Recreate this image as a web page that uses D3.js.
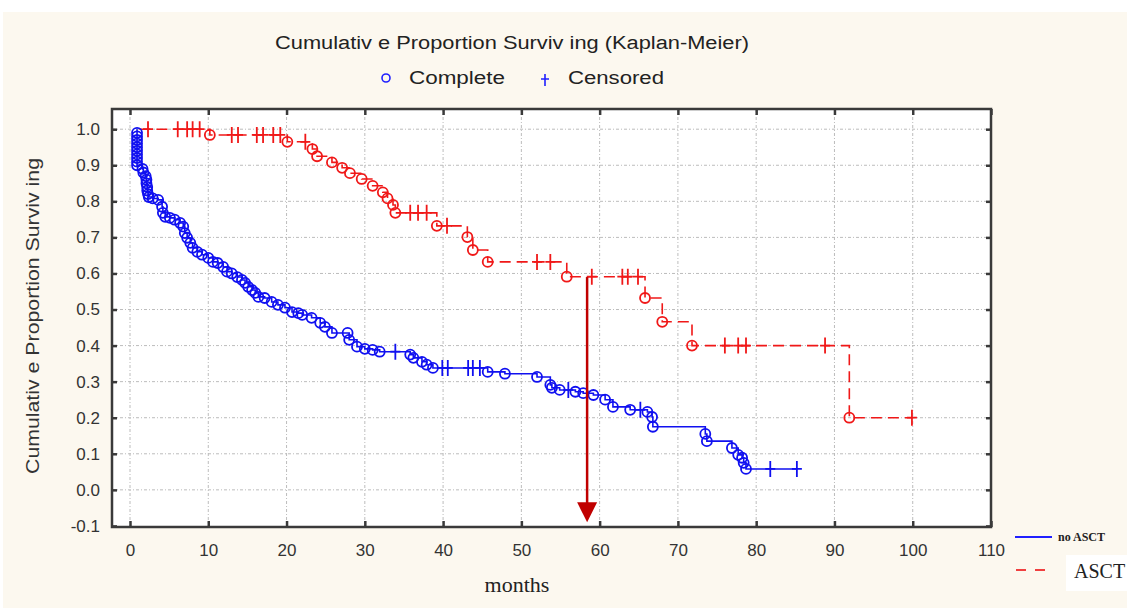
<!DOCTYPE html>
<html>
<head>
<meta charset="utf-8">
<script src="https://cdn.jsdelivr.net/npm/d3@7.9.0/dist/d3.min.js"></script>
<style>
  html, body { margin: 0; padding: 0; background: #fff; }
  svg { display: block; }
</style>
</head>
<body>
<svg id="chart" width="1127" height="608"></svg>
<script>
// --- data (months, proportion surviving) ---
const xTicks = [0, 10, 20, 30, 40, 50, 60, 70, 80, 90, 100, 110];
const yTicks = [-0.1, 0.0, 0.1, 0.2, 0.3, 0.4, 0.5, 0.6, 0.7, 0.8, 0.9, 1.0];

// no ASCT (blue)
const blueStart = 0.9;
const blueEventTimes = [
  0.9, 0.9, 0.9, 0.9, 0.9, 0.9, 0.9, 0.9, 0.9, 0.9,
  1.6, 1.7, 2.0, 2.1, 2.1, 2.2, 2.2, 2.3, 2.4,
  2.9, 3.6, 4.1, 4.2, 4.5, 5.1, 5.7, 6.4, 6.8, 7.0, 7.3,
  7.7, 8.0, 8.6, 9.2, 10.0, 10.6, 11.2, 11.9, 12.4, 13.0,
  13.7, 14.3, 14.7, 15.1, 15.6, 16.0, 16.4, 17.2, 18.1, 18.9,
  19.8, 20.7, 21.5, 22.0, 23.2, 24.3, 24.9, 25.8, 27.8, 28.0,
  29.0, 30.0, 31.0, 31.9, 35.8, 36.2, 37.3, 37.9, 38.7, 45.7,
  47.9, 52.0, 53.7, 53.9, 54.9, 56.9, 57.9, 59.2, 60.7, 61.7,
  63.9, 66.1, 66.7, 66.8, 73.5, 73.7, 76.9, 77.7, 78.2, 78.4, 78.7
];
const blueEventSurv = [
  0.99, 0.98, 0.97, 0.96, 0.95, 0.94, 0.93, 0.92, 0.91, 0.90,
  0.89, 0.88, 0.87, 0.86, 0.85, 0.84, 0.83, 0.82, 0.812,
  0.808, 0.804, 0.785, 0.768, 0.757, 0.754, 0.749, 0.74, 0.73, 0.712, 0.699,
  0.685, 0.671, 0.66, 0.652, 0.643, 0.632, 0.629, 0.618, 0.605, 0.60,
  0.59, 0.582, 0.574, 0.563, 0.554, 0.546, 0.535, 0.532, 0.521, 0.513,
  0.505, 0.493, 0.49, 0.485, 0.477, 0.463, 0.452, 0.435, 0.435, 0.416,
  0.397, 0.391, 0.388, 0.383, 0.375, 0.366, 0.355, 0.347, 0.338, 0.327,
  0.322, 0.313, 0.291, 0.283, 0.277, 0.272, 0.268, 0.263, 0.25, 0.23,
  0.222, 0.216, 0.202, 0.175, 0.155, 0.135, 0.116, 0.097, 0.089, 0.075, 0.058
];
const blueCensorTimes = [33.9, 39.9, 40.6, 43.2, 43.8, 44.7, 56.0, 65.2, 81.8, 85.2];

// ASCT (red)
const redStart = 1.2;
const redEventTimes = [
  10.2, 20.1, 23.3, 23.9, 25.8, 27.1, 28.1, 29.6, 31.0, 32.3,
  32.9, 33.6, 33.9, 39.2, 43.1, 43.8, 45.7, 55.8, 65.8, 68.0,
  71.8, 91.9
];
const redEventSurv = [
  0.984, 0.965, 0.945, 0.925, 0.908, 0.893, 0.878, 0.862, 0.843, 0.825,
  0.808, 0.79, 0.768, 0.732, 0.701, 0.665, 0.632, 0.591, 0.532, 0.466,
  0.40, 0.20
];
const redCensorTimes = [
  2.3, 6.1, 7.3, 8.0, 8.9, 13.0, 13.8, 16.2, 17.0, 18.3, 19.2, 22.4,
  35.8, 36.8, 37.9, 40.5, 52.0, 53.7, 59.0, 62.9, 63.6, 64.9,
  76.0, 77.7, 78.7, 88.8, 99.9
];

const arrowMonth = 58.4;
const arrowTop = 0.59;
const arrowTip = -0.09;

// --- build survival series ---
function buildSeries(start, evT, evS, cenT) {
  const events = evT.map((t, i) => ({ t, s: evS[i], type: 'event' }));
  const level = (t) => {
    let s = 1;
    events.forEach((e) => { if (e.t <= t) s = e.s; });
    return s;
  };
  const censors = cenT.map((t) => ({ t, s: level(t), type: 'censor' }));
  const all = [{ t: start, s: 1, type: 'start' }, ...events, ...censors]
    .sort((a, b) => a.t - b.t || b.s - a.s);
  return { events, censors, all };
}

const blue = buildSeries(blueStart, blueEventTimes, blueEventSurv, blueCensorTimes);
const red = buildSeries(redStart, redEventTimes, redEventSurv, redCensorTimes);

// --- drawing ---
const SANS = "'Liberation Sans', Arial, sans-serif";
const SERIF = "'Liberation Serif', 'Times New Roman', serif";
const svg = d3.select('#chart');
const plot = { left: 112, right: 991, top: 109, bottom: 527 };

svg.append('rect').attr('x', 3).attr('y', 12).attr('width', 1124).attr('height', 596).attr('fill', '#fcf8ef');
svg.append('rect')
  .attr('x', plot.left).attr('y', plot.top)
  .attr('width', plot.right - plot.left).attr('height', plot.bottom - plot.top)
  .attr('fill', '#fff');

const x = d3.scaleLinear().domain([-2.3, 110]).range([plot.left, plot.right]);
const y = d3.scaleLinear().domain([-0.103, 1.056]).range([plot.bottom, plot.top]);

// grid
const grid = svg.append('g').attr('stroke', '#bcbcbc').attr('stroke-width', 1).attr('stroke-dasharray', '3,2,1,2');
grid.selectAll('line.v').data(xTicks.filter((d) => d < 110)).join('line')
  .attr('x1', (d) => x(d)).attr('x2', (d) => x(d))
  .attr('y1', plot.top).attr('y2', plot.bottom);
grid.selectAll('line.h').data(yTicks.filter((d) => d > -0.1)).join('line')
  .attr('x1', plot.left).attr('x2', plot.right)
  .attr('y1', (d) => y(d)).attr('y2', (d) => y(d));

// axes
const fmt = (d) => d3.format('.1f')(d).replace('\u2212', '-');
const axisColor = '#3a3a3a';
function styleAxis(g) {
  g.select('.domain').remove();
  g.selectAll('.tick line').attr('stroke', axisColor).attr('stroke-width', 2.5);
  g.selectAll('.tick text').attr('fill', '#333').attr('font-size', 17)
    .style('font-family', SANS);
}
svg.append('g').attr('transform', `translate(${plot.left},0)`)
  .call(d3.axisLeft(y).tickValues(yTicks).tickFormat(fmt).tickSize(-5).tickPadding(12))
  .call(styleAxis);
svg.append('g').attr('transform', `translate(${plot.right},0)`)
  .call(d3.axisRight(y).tickValues(yTicks).tickFormat('').tickSize(-5))
  .call(styleAxis);
svg.append('g').attr('transform', `translate(0,${plot.bottom})`)
  .call(d3.axisBottom(x).tickValues(xTicks).tickFormat(d3.format('d')).tickSize(-6).tickPadding(17))
  .call(styleAxis);
svg.append('g').attr('transform', `translate(0,${plot.top})`)
  .call(d3.axisTop(x).tickValues(xTicks).tickFormat('').tickSize(-6))
  .call(styleAxis);

svg.append('rect')
  .attr('x', plot.left).attr('y', plot.top)
  .attr('width', plot.right - plot.left).attr('height', plot.bottom - plot.top)
  .attr('fill', 'none').attr('stroke', axisColor).attr('stroke-width', 2.5);

// curves
const line = d3.line().x((d) => x(d.t)).y((d) => y(d.s)).curve(d3.curveStepAfter);

function drawSeries(series, color, dash) {
  const g = svg.append('g');
  g.append('path').datum(series.all)
    .attr('d', line).attr('fill', 'none').attr('stroke', color)
    .attr('stroke-width', 1.6).attr('stroke-dasharray', dash);
  g.selectAll('circle').data(series.events).join('circle')
    .attr('cx', (d) => x(d.t)).attr('cy', (d) => y(d.s)).attr('r', 5)
    .attr('fill', 'none').attr('stroke', color).attr('stroke-width', 1.8);
  g.selectAll('path.cen').data(series.censors).join('path')
    .attr('class', 'cen')
    .attr('d', (d) => `M${x(d.t)},${y(d.s) - 8}V${y(d.s) + 8}M${x(d.t) - 5},${y(d.s)}H${x(d.t) + 5}`)
    .attr('stroke', color).attr('stroke-width', 1.8).attr('fill', 'none');
}
drawSeries(red, '#f01818', '11,6');
drawSeries(blue, '#1010f0', null);

// arrow
const arrowColor = '#c00000';
svg.append('line')
  .attr('x1', x(arrowMonth)).attr('x2', x(arrowMonth))
  .attr('y1', y(arrowTop)).attr('y2', y(arrowTip) - 18)
  .attr('stroke', arrowColor).attr('stroke-width', 2.5);
svg.append('path')
  .attr('d', `M${x(arrowMonth) - 10},${y(arrowTip) - 20}L${x(arrowMonth) + 10},${y(arrowTip) - 20}L${x(arrowMonth)},${y(arrowTip)}Z`)
  .attr('fill', arrowColor);

// titles
svg.append('text').attr('x', 512).attr('y', 49).attr('text-anchor', 'middle')
  .style('font-family', SANS).attr('font-size', 18).attr('fill', '#222')
  .attr('textLength', 474).attr('lengthAdjust', 'spacingAndGlyphs')
  .text('Cumulativ e Proportion Surviv ing (Kaplan-Meier)');

svg.append('circle').attr('cx', 386).attr('cy', 78).attr('r', 4)
  .attr('fill', 'none').attr('stroke', '#2020ff').attr('stroke-width', 1.6);
svg.append('text').attr('x', 409).attr('y', 84).style('font-family', SANS)
  .attr('font-size', 18).attr('fill', '#222')
  .attr('textLength', 96).attr('lengthAdjust', 'spacingAndGlyphs').text('Complete');
svg.append('path').attr('d', 'M545,74V86M541,79H549').attr('stroke', '#2020ff').attr('stroke-width', 1.6);
svg.append('text').attr('x', 568).attr('y', 84).style('font-family', SANS)
  .attr('font-size', 18).attr('fill', '#222')
  .attr('textLength', 96).attr('lengthAdjust', 'spacingAndGlyphs').text('Censored');

svg.append('text')
  .attr('transform', 'translate(39,316) rotate(-90)')
  .attr('text-anchor', 'middle').style('font-family', SANS).attr('font-size', 18).attr('fill', '#333')
  .attr('textLength', 316).attr('lengthAdjust', 'spacingAndGlyphs')
  .text('Cumulativ e Proportion Surviv ing');

svg.append('text').attr('x', 517).attr('y', 592).attr('text-anchor', 'middle')
  .style('font-family', SERIF).attr('font-size', 22).attr('fill', '#222').text('months');

// group legend (bottom right)
svg.append('line').attr('x1', 1015).attr('x2', 1052).attr('y1', 537).attr('y2', 537)
  .attr('stroke', '#2020ff').attr('stroke-width', 2);
svg.append('text').attr('x', 1058).attr('y', 541)
  .style('font-family', SERIF).attr('font-size', 12).attr('font-weight', 'bold')
  .attr('fill', '#222').text('no ASCT');
svg.append('line').attr('x1', 1016).attr('x2', 1046).attr('y1', 570).attr('y2', 570)
  .attr('stroke', '#f04040').attr('stroke-width', 2).attr('stroke-dasharray', '10,9');
svg.append('rect').attr('x', 1066).attr('y', 555).attr('width', 61).attr('height', 36).attr('fill', '#fff');
svg.append('text').attr('x', 1074).attr('y', 578)
  .style('font-family', SERIF).attr('font-size', 20).attr('fill', '#222').text('ASCT');
</script>
</body>
</html>
